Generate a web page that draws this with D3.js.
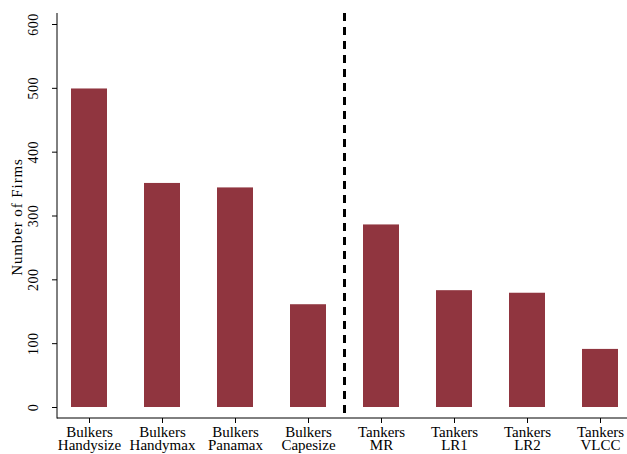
<!DOCTYPE html>
<html>
<head>
<meta charset="utf-8">
<script src="https://cdn.jsdelivr.net/npm/d3@7"></script>
<style>
  body { margin: 0; background: #fff; }
  text { font-family: "Liberation Serif", "DejaVu Serif", serif; fill: #000; }
</style>
</head>
<body>
<div id="chart"></div>
<script>
// Data
const fleet = ['Bulkers', 'Bulkers', 'Bulkers', 'Bulkers', 'Tankers', 'Tankers', 'Tankers', 'Tankers'];
const sizes = ['Handysize', 'Handymax', 'Panamax', 'Capesize', 'MR', 'LR1', 'LR2', 'VLCC'];
const firms = [499, 351, 344, 161, 286, 183, 179, 91];
const yTicks = [0, 100, 200, 300, 400, 500, 600];

const width = 627;
const height = 454;
const data = sizes.map((s, i) => ({ fleet: fleet[i], size: s, value: firms[i] }));

const svg = d3.select('#chart')
  .append('svg')
    .attr('width', width)
    .attr('height', height)

// Scales
const scaleX = d3.scalePoint()
  .domain(sizes)
  .range([89, 600])
const scaleY = d3.scaleLinear()
  .domain([0, 600])
  .range([407, 24])
const barWidth = 36;
const axisX = 57;
const axisY = 418;

// Bars
svg.append('g')
  .selectAll('rect')
  .data(data)
  .join('rect')
    .attr('x', (d) => scaleX(d.size) - barWidth / 2)
    .attr('y', (d) => scaleY(d.value))
    .attr('width', barWidth)
    .attr('height', (d) => scaleY(0) - scaleY(d.value))
    .attr('fill', '#90353f')

// Y axis
const yAxis = svg.append('g')
  .attr('transform', `translate(${axisX}, 0)`)
  .call(d3.axisLeft(scaleY).tickValues(yTicks).tickSize(5).tickPadding(4))
yAxis.select('.domain').remove();
yAxis.append('line')
  .attr('y1', 13)
  .attr('y2', axisY + 0.5)
  .attr('stroke', '#000')
yAxis.selectAll('.tick text')
  .attr('font-size', 14)
  .attr('letter-spacing', 0.5)
  .attr('text-anchor', 'middle')
  .attr('x', 0)
  .attr('dy', 0)
  .attr('transform', 'translate(-19, 0) rotate(-90)')
yAxis.selectAll('.tick line').attr('stroke', '#000');

// X axis
const xAxis = svg.append('g')
  .attr('transform', `translate(0, ${axisY})`)
  .call(d3.axisBottom(scaleX).tickSize(5).tickFormat(''))
xAxis.select('.domain').remove();
xAxis.append('line')
  .attr('x1', axisX)
  .attr('x2', width)
  .attr('stroke', '#000')
xAxis.selectAll('.tick line').attr('stroke', '#000');
xAxis.selectAll('.tick')
  .each(function (d, i) {
    const t = d3.select(this).append('text')
      .attr('text-anchor', 'middle')
      .attr('font-size', 15)
    t.append('tspan').attr('x', 0).attr('y', 19).text(fleet[i]);
    t.append('tspan').attr('x', 0).attr('y', 31.5).text(sizes[i]);
  })

// Divider between bulkers and tankers
const divX = (scaleX('Capesize') + scaleX('MR')) / 2;
svg.append('line')
  .attr('x1', divX)
  .attr('x2', divX)
  .attr('y1', 13)
  .attr('y2', axisY)
  .attr('stroke', '#000')
  .attr('stroke-width', 3)
  .attr('stroke-dasharray', '8,6')

// Y title
svg.append('text')
  .attr('transform', `translate(22, 217) rotate(-90)`)
  .attr('text-anchor', 'middle')
  .attr('font-size', 15)
  .attr('letter-spacing', 0.9)
  .text('Number of Firms')
</script>
</body>
</html>
